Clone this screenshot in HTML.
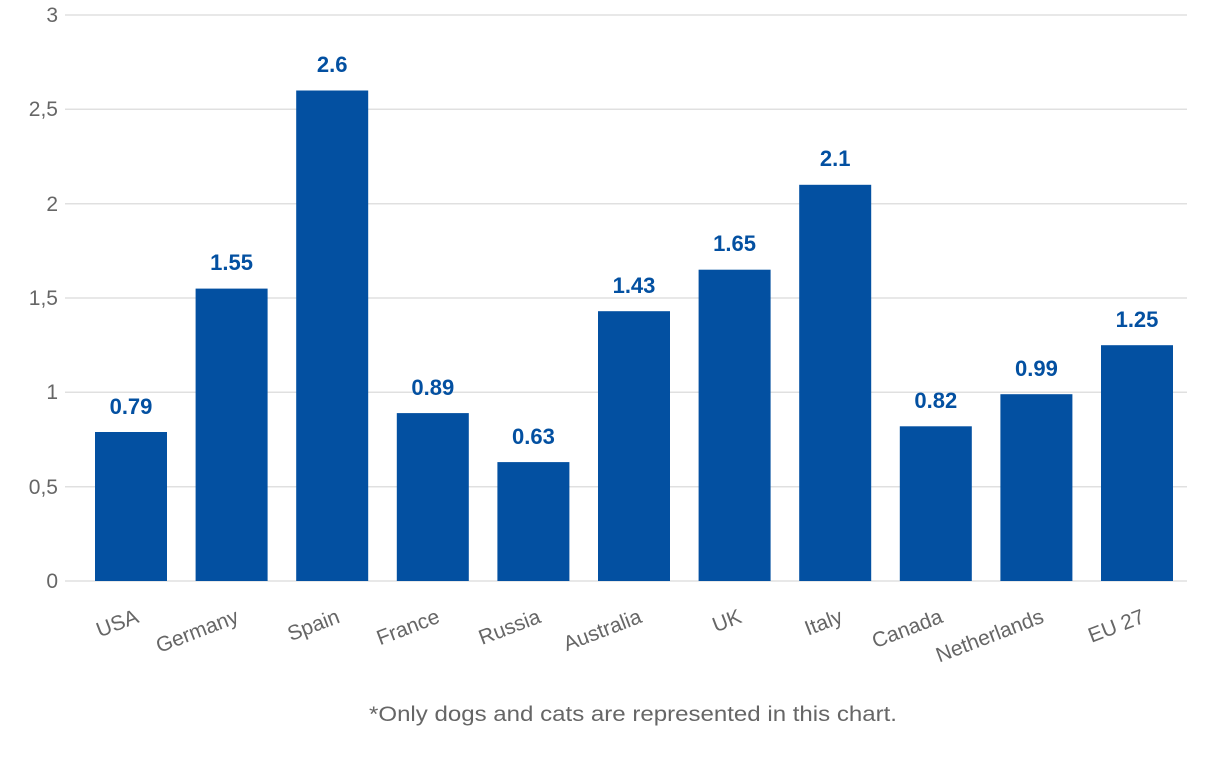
<!DOCTYPE html>
<html><head><meta charset="utf-8"><style>
html,body{margin:0;padding:0;background:#fff;}
svg{display:block;font-family:"Liberation Sans",sans-serif;}
</style></head><body>
<svg width="1220" height="763" viewBox="0 0 1220 763" xmlns="http://www.w3.org/2000/svg">
<g stroke="#e0e0e0" stroke-width="1.5">
<line x1="65" y1="15" x2="1187" y2="15"/>
<line x1="65" y1="109.3" x2="1187" y2="109.3"/>
<line x1="65" y1="203.7" x2="1187" y2="203.7"/>
<line x1="65" y1="298" x2="1187" y2="298"/>
<line x1="65" y1="392.3" x2="1187" y2="392.3"/>
<line x1="65" y1="486.7" x2="1187" y2="486.7"/>
<line x1="65" y1="581" x2="1187" y2="581"/>
</g>
<g fill="#666" font-size="21" text-anchor="end">
<text x="58" y="22">3</text>
<text x="58" y="116">2,5</text>
<text x="58" y="211">2</text>
<text x="58" y="305">1,5</text>
<text x="58" y="399">1</text>
<text x="58" y="494">0,5</text>
<text x="58" y="588">0</text>
</g>
<g fill="#0350a1">
<rect x="95" y="432" width="72" height="149"/>
<rect x="195.6" y="288.6" width="72" height="292.4"/>
<rect x="296.2" y="90.5" width="72" height="490.5"/>
<rect x="396.8" y="413.1" width="72" height="167.9"/>
<rect x="497.4" y="462.1" width="72" height="118.9"/>
<rect x="598" y="311.2" width="72" height="269.8"/>
<rect x="698.6" y="269.7" width="72" height="311.3"/>
<rect x="799.2" y="184.8" width="72" height="396.2"/>
<rect x="899.8" y="426.3" width="72" height="154.7"/>
<rect x="1000.4" y="394.2" width="72" height="186.8"/>
<rect x="1101" y="345.2" width="72" height="235.8"/>
</g>
<g fill="#0350a1" font-size="22" font-weight="bold" text-anchor="middle">
<text x="131" y="414">0.79</text>
<text x="231.6" y="270">1.55</text>
<text x="332.2" y="72">2.6</text>
<text x="432.8" y="395">0.89</text>
<text x="533.4" y="444">0.63</text>
<text x="634" y="293">1.43</text>
<text x="734.6" y="251">1.65</text>
<text x="835.2" y="166">2.1</text>
<text x="935.8" y="408">0.82</text>
<text x="1036.4" y="376">0.99</text>
<text x="1137" y="327">1.25</text>
</g>
<g fill="#666" font-size="21" text-anchor="end">
<text transform="translate(140,622) rotate(-21)">USA</text>
<text transform="translate(240,622) rotate(-21)">Germany</text>
<text transform="translate(341,622) rotate(-21)">Spain</text>
<text transform="translate(441,622) rotate(-21)">France</text>
<text transform="translate(542,622) rotate(-21)">Russia</text>
<text transform="translate(643,622) rotate(-21)">Australia</text>
<text transform="translate(743,622) rotate(-21)">UK</text>
<text transform="translate(844,622) rotate(-21)">Italy</text>
<text transform="translate(944,622) rotate(-21)">Canada</text>
<text transform="translate(1045,622) rotate(-21)">Netherlands</text>
<text transform="translate(1146,622) rotate(-21)">EU 27</text>
</g>
<text x="369" y="721" fill="#666" font-size="21" textLength="528" lengthAdjust="spacingAndGlyphs">*Only dogs and cats are represented in this chart.</text>
</svg>
</body></html>
